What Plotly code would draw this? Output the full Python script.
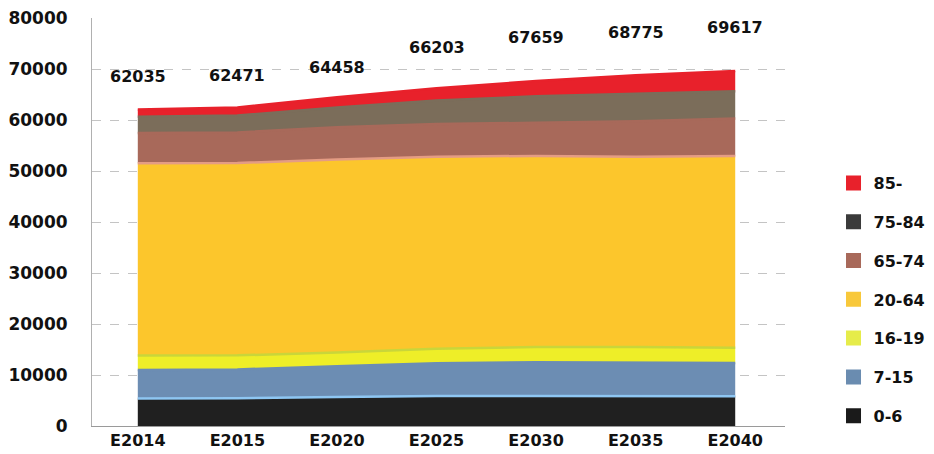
import plotly.graph_objects as go

categories = ["E2014", "E2015", "E2020", "E2025", "E2030", "E2035", "E2040"]
totals = [62035, 62471, 64458, 66203, 67659, 68775, 69617]

age_0_6 = [5400, 5450, 5700, 5900, 5900, 5850, 5850]
age_7_15 = [5600, 5650, 6000, 6400, 6600, 6600, 6500]
age_16_19 = [2800, 2750, 2700, 2850, 3000, 3050, 3000]
age_65_74 = [5900, 6000, 6300, 6400, 6500, 7000, 7400]
age_75_84 = [3200, 3300, 3900, 4600, 5200, 5400, 5300]
age_85 = [1400, 1600, 2000, 2400, 3000, 3600, 4000]
age_20_64 = [t - a - b - c - d - e - f for t, a, b, c, d, e, f in
             zip(totals, age_0_6, age_7_15, age_16_19, age_65_74, age_75_84, age_85)]

series_names = ["0-6", "7-15", "16-19", "20-64", "65-74", "75-84", "85-"]
series_values = [age_0_6, age_7_15, age_16_19, age_20_64, age_65_74, age_75_84, age_85]
fill_colors = ["#202020", "#6c8db3", "#eeee28", "#fcc62c", "#a8695a", "#7b6d5a", "#e8212b"]
edge_colors = ["#8ec6f2", "#6c8db3", "#c9d63a", "#e49c84", "#a8695a", "#7b6d5a", "#e8212b"]
legend_colors = ["#1a1a1a", "#6a8cb0", "#e6ec4a", "#f8c83a", "#a8695a", "#3a3a3a", "#e8212b"]

label_shift = [33, 32, 30, 41, 43, 43, 43]

fig = go.Figure()
for name, vals, fc, ec in zip(series_names, series_values, fill_colors, edge_colors):
    fig.add_trace(go.Scatter(
        x=categories, y=vals, name=name, stackgroup="one", mode="lines",
        line=dict(color=ec, width=2.5), fillcolor=fc, showlegend=False,
        hoverinfo="skip"))

for name, lc in reversed(list(zip(series_names, legend_colors))):
    fig.add_trace(go.Scatter(
        x=[None], y=[None], name=name, mode="markers", legendgroup=name,
        marker=dict(symbol="square", size=15, color=lc)))

for cat, tot, ys in zip(categories, totals, label_shift):
    fig.add_annotation(x=cat, y=tot, text=str(tot), showarrow=False,
                       yshift=ys, font=dict(size=16, color="#111", family="DejaVu Sans", weight="bold"))

fig.update_layout(
    width=934, height=454,
    margin=dict(l=92, r=149, t=18, b=28, autoexpand=False),
    paper_bgcolor="white", plot_bgcolor="white",
    font=dict(family="DejaVu Sans", color="#111"),
    legend=dict(x=1.07, y=0.31, xanchor="left", yanchor="middle",
                traceorder="grouped", tracegroupgap=15,
                font=dict(size=16, family="DejaVu Sans", weight="bold", color="#111")),
    xaxis=dict(type="category", range=[-0.46, 6.5], showgrid=False,
               showline=True, linecolor="#9a9a9a", ticks="",
               tickfont=dict(size=16, family="DejaVu Sans", weight="bold", color="#111")),
    yaxis=dict(range=[0, 80000], dtick=10000, tickformat="d", showgrid=True, gridcolor="#c4c4c4",
               griddash="dash", gridwidth=1, showline=True, linecolor="#b0b0b0",
               zeroline=False, ticks="", ticklabelstandoff=20,
               tickfont=dict(size=17, family="DejaVu Sans", weight="bold", color="#111")),
)

fig.write_html("out.html", config={"displayModeBar": False},
               post_script="document.body.style.margin='0px';")
